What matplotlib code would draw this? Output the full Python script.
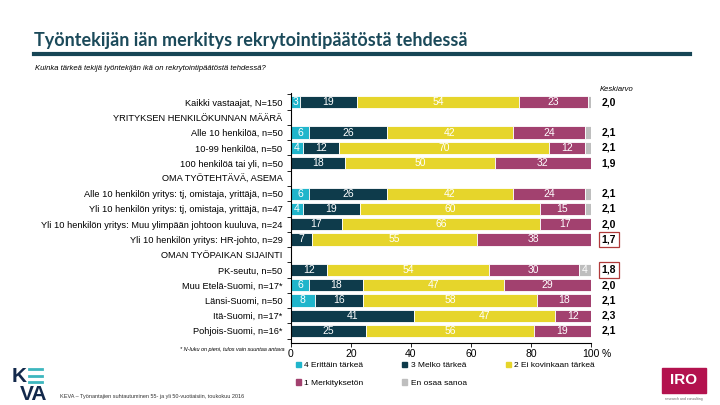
import matplotlib.pyplot as plt
from matplotlib.patches import Patch, Rectangle
import numpy as np

plt.rcParams['font.family'] = ['Liberation Sans Narrow', 'Liberation Sans', 'DejaVu Sans']

# rows of the chart (headings have no bars)
labels = ['Kaikki vastaajat, N=150',
          'YRITYKSEN HENKILÖKUNNAN MÄÄRÄ',
          'Alle 10 henkilöä, n=50',
          '10-99 henkilöä, n=50',
          '100 henkilöä tai yli, n=50',
          'OMA TYÖTEHTÄVÄ, ASEMA',
          'Alle 10 henkilön yritys: tj, omistaja, yrittäjä, n=50',
          'Yli 10 henkilön yritys: tj, omistaja, yrittäjä, n=47',
          'Yli 10 henkilön yritys: Muu ylimpään johtoon kuuluva, n=24',
          'Yli 10 henkilön yritys: HR-johto, n=29',
          'OMAN TYÖPAIKAN SIJAINTI',
          'PK-seutu, n=50',
          'Muu Etelä-Suomi, n=17*',
          'Länsi-Suomi, n=50',
          'Itä-Suomi, n=17*',
          'Pohjois-Suomi, n=16*']

erittain = [3, 0, 6, 4, 0, 0, 6, 4, 0, 0, 0, 0, 6, 8, 0, 0]
melko = [19, 0, 26, 12, 18, 0, 26, 19, 17, 7, 0, 12, 18, 16, 41, 25]
ei_kovin = [54, 0, 42, 70, 50, 0, 42, 60, 66, 55, 0, 54, 47, 58, 47, 56]
merkityksetön = [23, 0, 24, 12, 32, 0, 24, 15, 17, 38, 0, 30, 29, 18, 12, 19]
eos = [1, 0, 2, 2, 0, 0, 2, 2, 0, 0, 0, 4, 0, 0, 0, 0]
keskiarvo = ['2,0', '', '2,1', '2,1', '1,9', '', '2,1', '2,1', '2,0', '1,7', '',
             '1,8', '2,0', '2,1', '2,3', '2,1']
korostus = [9, 11]  # rows with red box

series = [erittain, melko, ei_kovin, merkityksetön, eos]
names = ['4 Erittäin tärkeä', '3 Melko tärkeä', '2 Ei kovinkaan tärkeä',
         '1 Merkityksetön', 'En osaa sanoa']
colors = ['#20B5CB', '#0E3B4B', '#E6D52B', '#A2416F', '#BEBEBE']

fig = plt.figure(figsize=(7.2, 4.05), dpi=100)
ax = fig.add_axes([0.404, 0.1526, 0.4167, 0.618])

y = np.arange(len(labels))
left = np.zeros(len(labels))
for vals, c in zip(series, colors):
    vals = np.array(vals, dtype=float)
    ax.barh(y, vals, left=left, height=0.8, color=c, edgecolor='white', linewidth=0.6)
    for yi, (l, v) in enumerate(zip(left, vals)):
        if v >= 3:
            ax.text(l + v / 2, yi, str(int(v)), ha='center', va='center',
                    color='white', fontsize=7.5)
    left += vals

ax.set_xlim(0, 100)
ax.set_ylim(15.8, -0.6)
ax.set_yticks(y)
ax.set_yticklabels(labels, fontsize=6.7)
ax.set_yticks(np.arange(-0.5, 16, 1), minor=True)
ax.tick_params(axis='y', which='major', length=0, pad=6)
ax.tick_params(axis='y', which='minor', length=3, width=0.6)
ax.set_xticks([0, 20, 40, 60, 80, 100])
ax.tick_params(axis='x', labelsize=7.5, length=3, width=0.6, pad=1)
for s in ['top', 'right']:
    ax.spines[s].set_visible(False)
for s in ['left', 'bottom']:
    ax.spines[s].set_linewidth(0.8)
ax.text(103.5, -0.022, '%', transform=ax.get_xaxis_transform(), fontsize=7.5,
        va='top', ha='left')

# mean column
ax.text(108.5, -0.62, 'Keskiarvo', fontsize=5.5, style='italic', ha='center', va='bottom')
for yi, k in enumerate(keskiarvo):
    if k:
        box = None
        if yi in korostus:
            box = dict(boxstyle='square,pad=0.25', fc='white', ec='#B03A3A', lw=0.9)
        ax.text(106, yi, k, fontsize=7.5, fontweight='bold', ha='center', va='center',
                bbox=box, clip_on=False)

# title
fig.text(0.047, 0.886, 'Työntekijän iän merkitys rekrytointipäätöstä tehdessä',
         fontsize=13, fontweight='bold', color='#1B4A5A', family=['Lato', 'DejaVu Sans'])
fig.add_artist(plt.Line2D([0.047, 0.958], [0.866, 0.866], color='#164555', lw=3))
fig.text(0.049, 0.828, 'Kuinka tärkeä tekijä työntekijän ikä on rekrytointipäätöstä tehdessä?',
         fontsize=5.5, style='italic')
fig.text(0.395, 0.133, '* N-luku on pieni, tulos vain suuntaa antava', fontsize=4,
         style='italic', ha='right')

# legend
order = [0, 3, 1, 4, 2]
handles = [Patch(color=colors[i], label=names[i]) for i in order]
fig.legend(handles=handles, ncol=3, loc='upper left', bbox_to_anchor=(0.4, 0.125),
           frameon=False, fontsize=6, handlelength=0.6, handleheight=0.6,
           handletextpad=0.4, columnspacing=4.7, labelspacing=1.2)

# KEVA logo
fig.text(0.016, 0.058, 'K', fontsize=15, color='#13294B', fontweight='bold')
for yy in [0.088, 0.072, 0.056]:
    fig.add_artist(plt.Line2D([0.04, 0.058], [yy, yy], color='#3DB7BF', lw=2))
fig.text(0.028, 0.012, 'VA', fontsize=15, color='#13294B', fontweight='bold')
fig.text(0.083, 0.018, 'KEVA – Työnantajien suhtautuminen 55- ja yli 50-vuotiaisiin, toukokuu 2016',
         fontsize=4, color='#333333')

# IRO logo
fig.add_artist(Rectangle((0.92, 0.03), 0.061, 0.062, transform=fig.transFigure,
                         color='#B3124E'))
fig.text(0.95, 0.061, 'IRO', fontsize=11, fontweight='bold', color='white',
         ha='center', va='center')
fig.text(0.95, 0.012, 'research and consulting', fontsize=2.5, color='#666666', ha='center')

fig.savefig('out.png', dpi=100)
